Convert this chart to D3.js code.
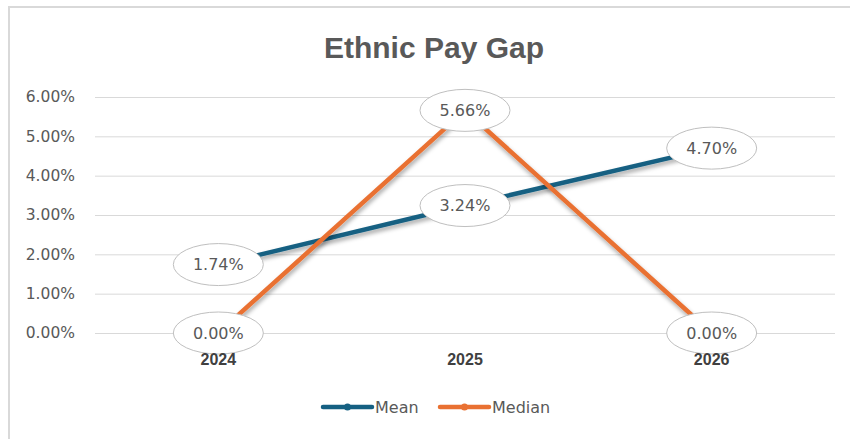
<!DOCTYPE html>
<html>
<head>
<meta charset="utf-8">
<script src="https://cdn.jsdelivr.net/npm/d3@7.9.0/dist/d3.min.js"></script>
<style>
  html, body { margin: 0; padding: 0; background: #fff; }
  svg { display: block; font-family: "DejaVu Sans", sans-serif; }
</style>
</head>
<body>
<svg id="chart" width="850" height="439"></svg>
<script>
// ---- data ----
const years = ['2024', '2025', '2026'];
const meanGap = [1.74, 3.24, 4.70];
const medianGap = [0.00, 5.66, 0.00];
const yTicks = [0, 1, 2, 3, 4, 5, 6];

const series = [
  { name: 'Mean', values: meanGap, color: '#156082' },
  { name: 'Median', values: medianGap, color: '#E97132' }
];

const svg = d3.select('#chart');
const width = 850, height = 439;
const margin = { top: 97, right: 15, bottom: 106, left: 95 };
const plot = {
  left: margin.left,
  right: width - margin.right,
  top: margin.top,
  bottom: height - margin.bottom
};

// chart frame
svg.append('rect')
  .attr('x', 9).attr('y', 7)
  .attr('width', 860).attr('height', 460)
  .attr('fill', '#fff')
  .attr('stroke', '#d9d9d9')
  .attr('stroke-width', 2);

// drop shadow for the lines
const defs = svg.append('defs');
const shadow = defs.append('filter').attr('id', 'shadow')
  .attr('x', '-10%').attr('y', '-10%').attr('width', '120%').attr('height', '130%');
shadow.append('feDropShadow')
  .attr('dx', 1).attr('dy', 3).attr('stdDeviation', 2)
  .attr('flood-color', '#000').attr('flood-opacity', 0.35);

const xScale = d3.scaleBand().domain(years).range([plot.left, plot.right]);
const yScale = d3.scaleLinear().domain([0, 6]).range([plot.bottom, plot.top]);
const xc = d => xScale(d) + xScale.bandwidth() / 2;

// title
svg.append('text')
  .attr('x', 434).attr('y', 58)
  .attr('text-anchor', 'middle')
  .attr('font-family', '"Liberation Sans", Arial, sans-serif')
  .attr('font-weight', 'bold')
  .attr('font-size', 30)
  .attr('fill', '#595959')
  .text('Ethnic Pay Gap');

// gridlines
svg.append('g')
  .attr('transform', `translate(${plot.left},0)`)
  .call(d3.axisLeft(yScale).tickValues(yTicks).tickFormat('').tickSize(-(plot.right - plot.left)))
  .call(g => g.select('.domain').remove())
  .call(g => g.selectAll('line').attr('stroke', '#d9d9d9').attr('stroke-width', 1));

// y axis labels
svg.append('g')
  .attr('transform', `translate(${plot.left},0)`)
  .call(d3.axisLeft(yScale).tickValues(yTicks).tickFormat(d => d.toFixed(2) + '%').tickSize(0).tickPadding(20))
  .call(g => g.select('.domain').remove())
  .call(g => g.selectAll('text')
    .attr('font-family', '"DejaVu Sans", sans-serif')
    .attr('font-size', 15.5)
    .attr('fill', '#595959'));

// lines
const line = d3.line().x((d, i) => xc(years[i])).y(d => yScale(d));

svg.append('g').selectAll('path')
  .data(series)
  .join('path')
  .attr('d', d => line(d.values))
  .attr('fill', 'none')
  .attr('stroke', d => d.color)
  .attr('stroke-width', 4.5)
  .attr('stroke-linejoin', 'round')
  .attr('filter', 'url(#shadow)');

// data labels (ellipse callouts)
const labels = series.flatMap(s => s.values.map((v, i) => ({ year: years[i], value: v })));
const lab = svg.append('g').selectAll('g')
  .data(labels)
  .join('g')
  .attr('transform', d => `translate(${xc(d.year)},${yScale(d.value)})`);

lab.append('ellipse')
  .attr('rx', 45).attr('ry', 21)
  .attr('fill', '#fff')
  .attr('stroke', '#bfbfbf')
  .attr('stroke-width', 1);

lab.append('text')
  .attr('text-anchor', 'middle')
  .attr('dy', '0.36em')
  .attr('font-size', 16)
  .attr('fill', '#595959')
  .text(d => d.value.toFixed(2) + '%');

// x axis labels (drawn over the callouts)
svg.append('g')
  .attr('transform', `translate(0,${plot.bottom})`)
  .call(d3.axisBottom(xScale).tickSize(0).tickPadding(21))
  .call(g => g.select('.domain').remove())
  .call(g => g.selectAll('text')
    .attr('font-family', '"Liberation Sans", Arial, sans-serif')
    .attr('font-size', 16)
    .attr('font-weight', 'bold')
    .attr('fill', '#404040'));

// legend
const legend = svg.append('g').attr('transform', 'translate(323,407)');
const item = legend.selectAll('g')
  .data(series)
  .join('g')
  .attr('transform', (d, i) => `translate(${i * 117},0)`);

item.append('line')
  .attr('x1', 0).attr('x2', 49)
  .attr('stroke', d => d.color)
  .attr('stroke-width', 4.5)
  .attr('stroke-linecap', 'round');
item.append('circle')
  .attr('cx', 24.5).attr('r', 3.5)
  .attr('fill', d => d.color);
item.append('text')
  .attr('x', 52).attr('dy', '0.36em')
  .attr('font-size', 16)
  .attr('fill', '#595959')
  .text(d => d.name);
</script>
</body>
</html>
